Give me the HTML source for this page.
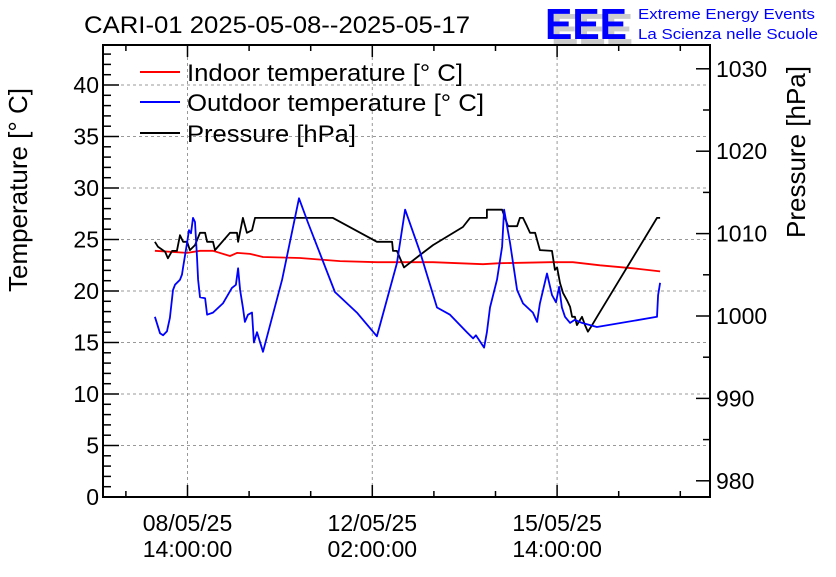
<!DOCTYPE html>
<html><head><meta charset="utf-8"><style>
html,body{margin:0;padding:0;background:#fff;}
svg text{font-family:"Liberation Sans",sans-serif;}
</style></head><body>
<svg id="c" width="836" height="572" xmlns="http://www.w3.org/2000/svg">
<rect width="836" height="572" fill="#fff"/>
<text x="84" y="33" font-size="24" textLength="386" lengthAdjust="spacingAndGlyphs">CARI-01 2025-05-08--2025-05-17</text>
<g>
<text x="551" y="44" font-size="44" font-weight="bold" fill="#ccc" textLength="82" lengthAdjust="spacingAndGlyphs">EEE</text>
<text x="545" y="39" font-size="44" font-weight="bold" fill="#0000ff" textLength="82" lengthAdjust="spacingAndGlyphs">EEE</text>
<text x="638" y="19" font-size="15" fill="#0000ff" textLength="177" lengthAdjust="spacingAndGlyphs">Extreme Energy Events</text>
<text x="638" y="39" font-size="15" fill="#0000ff" textLength="180" lengthAdjust="spacingAndGlyphs">La Scienza nelle Scuole</text>
</g>
<g id="grid"></g><g id="axes"></g><g id="series"></g>
<g>
<line x1="140" y1="72" x2="180" y2="72" stroke="#f00" stroke-width="2"/>
<text x="187" y="81" font-size="24" textLength="276" lengthAdjust="spacingAndGlyphs">Indoor temperature [° C]</text>
<line x1="140" y1="102" x2="180" y2="102" stroke="#00f" stroke-width="2"/>
<text x="187" y="111" font-size="24" textLength="297" lengthAdjust="spacingAndGlyphs">Outdoor temperature [° C]</text>
<line x1="140" y1="133" x2="180" y2="133" stroke="#000" stroke-width="2"/>
<text x="187" y="142" font-size="24" textLength="169" lengthAdjust="spacingAndGlyphs">Pressure [hPa]</text>
</g>
<text transform="translate(27,190) rotate(-90)" text-anchor="middle" font-size="26">Temperature [° C]</text>
<text transform="translate(805,152) rotate(-90)" text-anchor="middle" font-size="26">Pressure [hPa]</text>
</svg>
<script>
const xTickLabels=[["08/05/25","14:00:00"],["12/05/25","02:00:00"],["15/05/25","14:00:00"]];
const xTickHours=[0,84,168];
const tempTicks=[0,5,10,15,20,25,30,35,40];
const presTicks=[980,990,1000,1010,1020,1030];
const outHours=[-14.8,-12.5,-11.1,-9.3,-8,-6.6,-5.7,-3.4,-2.5,-2,-0.2,0.7,1.6,2.5,3.4,4.3,4.8,5.7,8,8.9,11.6,16.1,20.2,22,23,23.9,25.2,26.1,27.5,29.3,30.2,31.6,34.3,43,50.7,54.8,67,77,86.1,95.2,98.9,105.7,113.4,119.3,127,129.8,131.1,134.8,136.1,137.5,140.7,143,143.9,146.6,149.8,152.5,157,158.9,160.2,163.4,165.7,167.5,168.9,170.2,171.6,173.9,176.1,179.3,186.1,213.4,213.9,214.8];
const outTemp=[17.5,15.9,15.7,16.1,17.4,20.1,20.6,21.1,21.6,22.3,24.7,25.9,25.6,27.1,26.7,23.3,21.1,19.4,19.3,17.7,17.9,18.8,20.3,20.6,22.2,20.1,18.4,17,17.7,17.9,15,16,14.1,21.1,29,26.6,19.9,17.9,15.6,22.7,27.9,23.8,18.4,17.7,16,15.4,15.7,14.5,16,18.4,21.1,24.3,27.9,24.7,20.1,18.8,17.9,17,18.8,21.7,19.6,18.9,20.4,18.4,17.5,16.9,17.2,16.9,16.5,17.5,19.6,20.8];
const inHours=[-14.8,-0.2,5.7,11.6,19.3,22.5,28.4,34.3,51.1,69.3,86.1,111.6,134.3,142,164.8,175.2,187.5,202.5,214.8];
const inTemp=[23.9,23.7,23.9,23.9,23.4,23.7,23.6,23.3,23.2,22.9,22.8,22.8,22.6,22.7,22.8,22.8,22.5,22.2,21.9];
const presHours=[-14.8,-13.4,-10.2,-8.9,-7,-4.8,-3.4,-2,-0.2,1.1,3.4,5.7,8,8.9,11.6,12.5,19.3,22.5,23,25.2,27,29.3,30.7,66.1,86.1,93,93.4,95.2,98.4,105.7,111.6,125.2,128.4,136.1,136.1,143,145.7,149.8,151.1,152.5,154.3,155.7,158,160.2,165.7,167,168,169.3,170.7,172.5,173.9,174.8,176.1,177,179.3,180.7,182,183.9,186.6,213.4,214.8];
const presVal=[1009,1008.4,1007.8,1007,1007.9,1007.9,1009.8,1009,1009,1008,1008.6,1010.1,1010.1,1009,1009,1008,1010.1,1010.1,1009,1011.9,1010.1,1010.4,1011.9,1011.9,1009,1009,1007.9,1007.9,1005.9,1007.4,1008.6,1010.8,1011.9,1011.9,1012.9,1012.9,1010.9,1010.9,1011.9,1011.9,1010.9,1010.1,1010.1,1008,1007.9,1005.6,1005.9,1004,1002.8,1001.9,1001.1,999.9,999.9,998.9,999.9,998.9,998.1,998.9,1000.1,1011.9,1011.9];

const NS="http://www.w3.org/2000/svg";
const L=103,R=710,T=45,B=497;
const xs=h=>187.5+h*2.2;
const yT=t=>B-t*10.3;
const yP=p=>316-(p-1000)*8.24;
function mk(tag,attrs,parent){const e=document.createElementNS(NS,tag);for(const k in attrs)e.setAttribute(k,attrs[k]);parent.appendChild(e);return e;}
const grid=document.getElementById('grid'),axes=document.getElementById('axes'),ser=document.getElementById('series');
xTickHours.forEach(h=>{const g=mk('line',{x1:xs(h),x2:xs(h),y1:T,y2:B,stroke:'#999','stroke-dasharray':'3,3','stroke-width':1},grid);

});
tempTicks.forEach(t=>{if(t===0)return;const g=mk('line',{x1:L,x2:R,y1:yT(t),y2:yT(t),stroke:'#999','stroke-dasharray':'3,3','stroke-width':1},grid);

});
const fr=mk('rect',{x:L,y:T,width:R-L,height:B-T,fill:'none',stroke:'#000','stroke-width':2},axes);


for(let t=0;t<=43;t++){const len=t%5===0?16:8;mk('line',{x1:L,x2:L+len,y1:yT(t),y2:yT(t),stroke:'#000','stroke-width':1.5},axes);}
tempTicks.forEach(t=>{const e=mk('text',{x:99,y:yT(t)+8,'font-size':23,'text-anchor':'end'},axes);e.textContent=t;

});
for(let p=980;p<=1034;p+=5){const y=yP(p);if(y<T||y>B)continue;const len=p%10===0?14:7;mk('line',{x1:R,x2:R-len,y1:y,y2:y,stroke:'#000','stroke-width':1.5},axes);}
presTicks.forEach(p=>{const e=mk('text',{x:716,y:yP(p)+8,'font-size':23},axes);e.textContent=p;

});
for(let h=-28;h<=240;h+=28){const x=xs(h);if(x<=L+2||x>=R-2)continue;const len=h%84===0?12:6;
mk('line',{x1:x,x2:x,y1:B,y2:B-len,stroke:'#000','stroke-width':1.5},axes);
mk('line',{x1:x,x2:x,y1:T,y2:T+len,stroke:'#000','stroke-width':1.5},axes);}
xTickHours.forEach((h,i)=>{[0,1].forEach(j=>{const e=mk('text',{x:xs(h),y:531+j*26,'font-size':23,'text-anchor':'middle'},axes);e.textContent=xTickLabels[i][j];

});});
function line(hs,vs,fy,col,name){const d=hs.map((h,i)=>(i?'L':'M')+xs(h).toFixed(1)+','+fy(vs[i]).toFixed(1)).join('');
const p=mk('path',{d:d,fill:'none',stroke:col,'stroke-width':1.8,'stroke-linejoin':'round'},ser);

}
line(inHours,inTemp,yT,'#f00','indoor-temperature-line');
line(presHours,presVal,yP,'#000','pressure-line');
line(outHours,outTemp,yT,'#00f','outdoor-temperature-line');
</script>
</body></html>
